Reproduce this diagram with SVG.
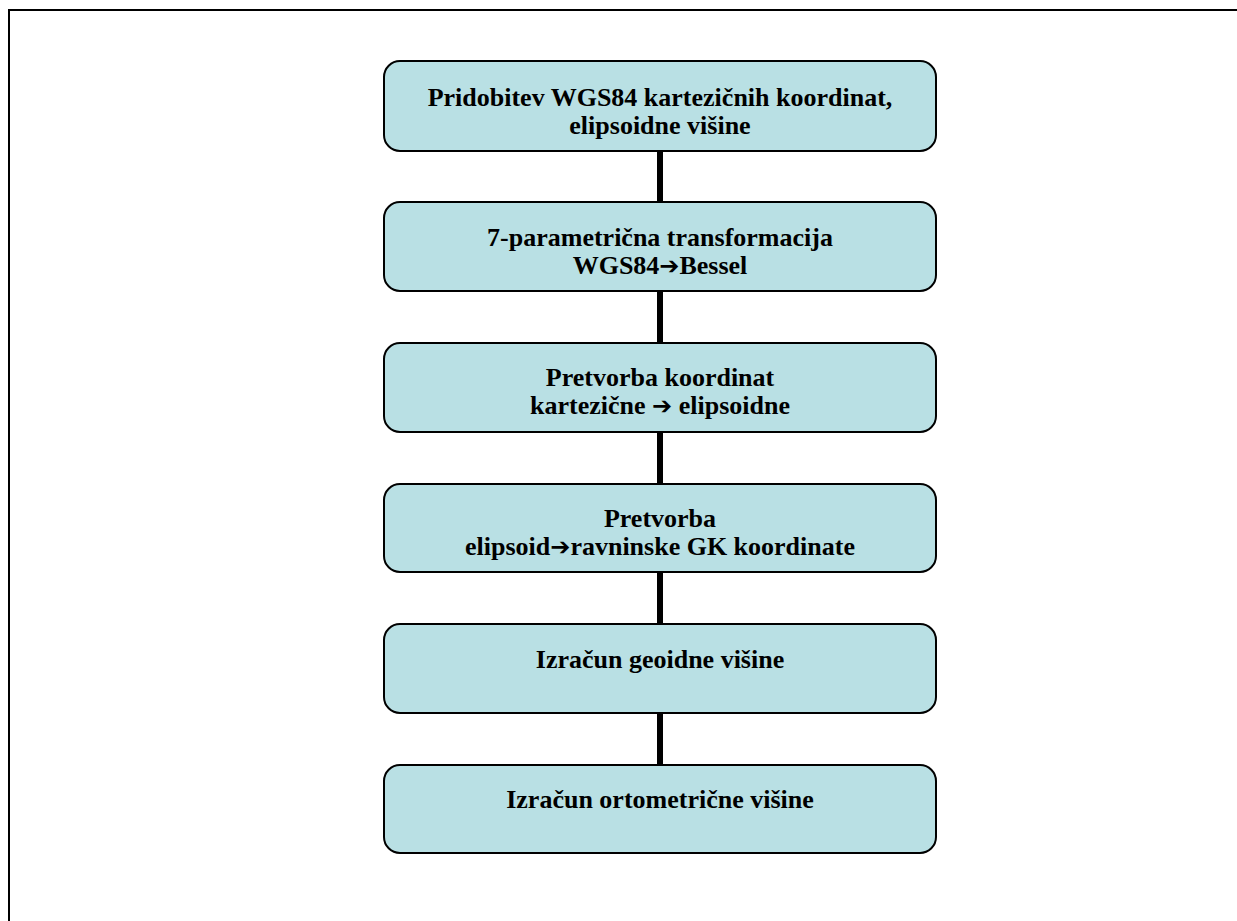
<svg xmlns="http://www.w3.org/2000/svg" width="1237" height="921" viewBox="0 0 1237 921">
<style>
.box{fill:#B9E0E4;stroke:#000;stroke-width:2}
.t{font-family:"Liberation Serif","Times New Roman",serif;font-weight:bold;font-size:26px;fill:#000;text-anchor:middle}
.ar{font-family:"DejaVu Sans",sans-serif;font-weight:bold;font-size:24px}
.c{stroke:#000;stroke-width:6}
</style>
<rect x="9" y="10" width="1260" height="1000" fill="none" stroke="#000" stroke-width="2"/>
<g id="connectors">
<line class="c" x1="660" y1="151" x2="660" y2="202"/>
<line class="c" x1="660" y1="291" x2="660" y2="343"/>
<line class="c" x1="660" y1="432" x2="660" y2="484"/>
<line class="c" x1="660" y1="572" x2="660" y2="624"/>
<line class="c" x1="660" y1="713" x2="660" y2="765"/>
</g>
<g id="n1"><rect class="box" x="384" y="61" width="552" height="90" rx="16"/>
<text class="t" x="660" y="106">Pridobitev WGS84 kartezičnih koordinat,</text>
<text class="t" x="660" y="134">elipsoidne višine</text></g>
<g id="n2"><rect class="box" x="384" y="202" width="552" height="89" rx="16"/>
<text class="t" x="660" y="246">7-parametrična transformacija</text>
<text class="t" x="660" y="274">WGS84<tspan class="ar">➔</tspan>Bessel</text></g>
<g id="n3"><rect class="box" x="384" y="343" width="552" height="89" rx="16"/>
<text class="t" x="660" y="386">Pretvorba koordinat</text>
<text class="t" x="660" y="414">kartezične <tspan class="ar">➔</tspan> elipsoidne</text></g>
<g id="n4"><rect class="box" x="384" y="484" width="552" height="88" rx="16"/>
<text class="t" x="660" y="527">Pretvorba</text>
<text class="t" x="660" y="555">elipsoid<tspan class="ar">➔</tspan>ravninske GK koordinate</text></g>
<g id="n5"><rect class="box" x="384" y="624" width="552" height="89" rx="16"/>
<text class="t" x="660" y="668">Izračun geoidne višine</text></g>
<g id="n6"><rect class="box" x="384" y="765" width="552" height="88" rx="16"/>
<text class="t" x="660" y="808">Izračun ortometrične višine</text></g>
</svg>
